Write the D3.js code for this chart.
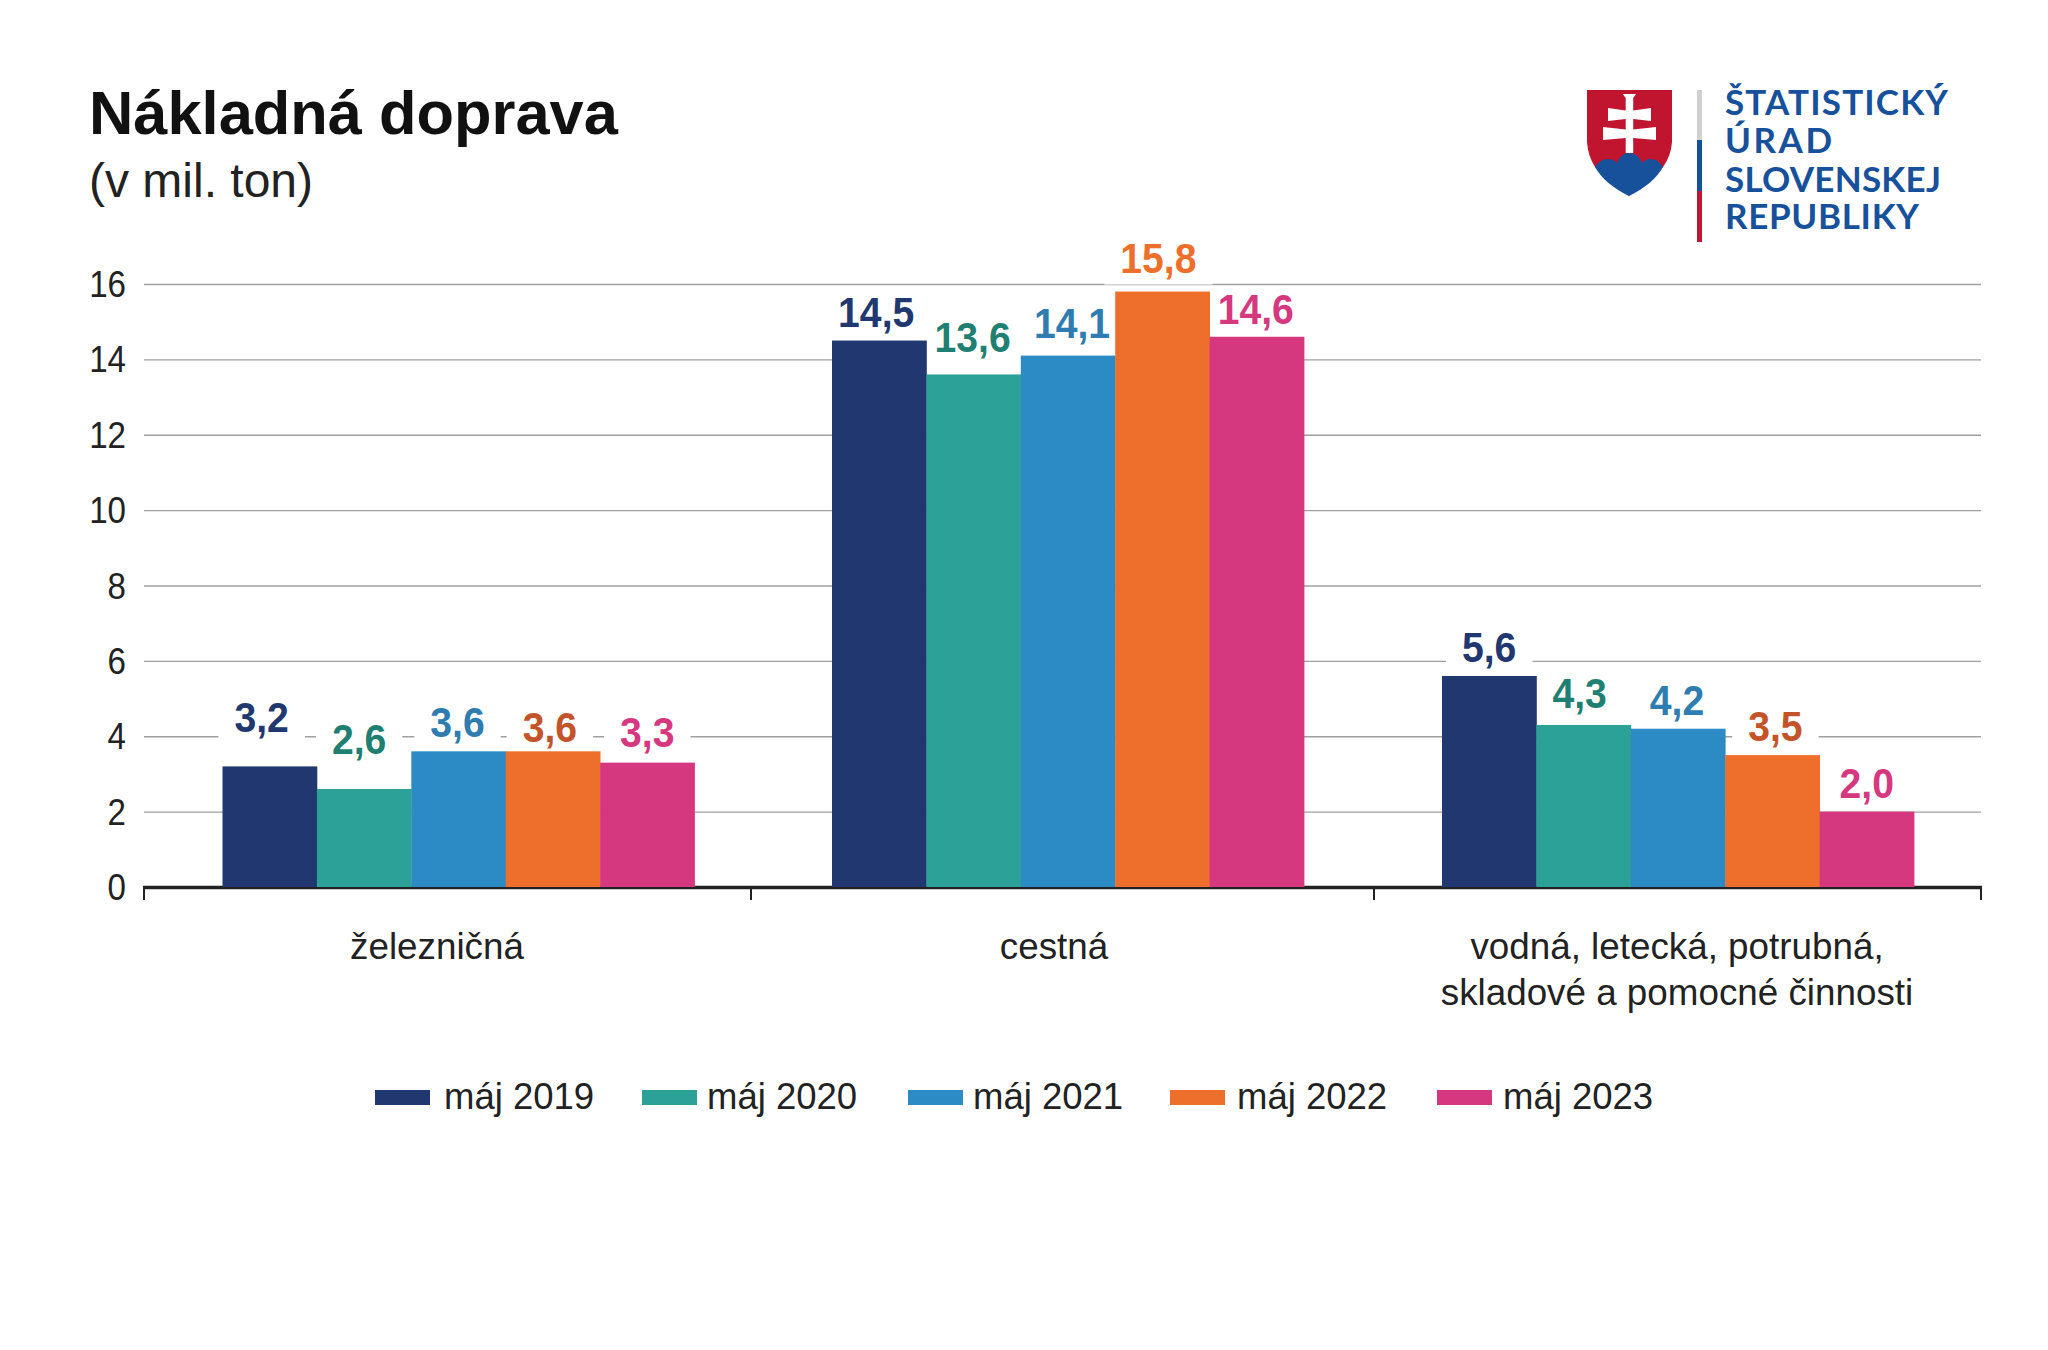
<!DOCTYPE html>
<html><head><meta charset="utf-8">
<script src="https://cdn.jsdelivr.net/npm/d3@7/dist/d3.min.js"></script>
<style>html,body{margin:0;background:#fff}svg{display:block}text{font-family:"Liberation Sans",Arial,sans-serif}</style>
</head><body><svg id="c" width="2048" height="1350"></svg>
<script>
const categories = [["železničná"],["cestná"],["vodná, letecká, potrubná,","skladové a pomocné činnosti"]];
const seriesNames = ["máj 2019","máj 2020","máj 2021","máj 2022","máj 2023"];
const may2019 = [3.2,14.5,5.6];
const may2020 = [2.6,13.6,4.3];
const may2021 = [3.6,14.1,4.2];
const may2022 = [3.6,15.8,3.5];
const may2023 = [3.3,14.6,2.0];
const seriesValues = [may2019,may2020,may2021,may2022,may2023];
const yTicks = [0,2,4,6,8,10,12,14,16];
const barColors = ["#20386F","#2CA197","#2C8AC5","#EE6F2B","#D63880"];
const labelColors = [["#20386F"],["#1F7F72"],["#2E7CB0"],["#C4532A","#EE6F2B","#C4532A"],["#D63880"]];
// layout
const axisL=144, axisR=1981, y0=887, y16=284, barW=94.4, bandStart=[222.5,832,1442];
const catTicks=[144,751,1374,1981], catLabelX=[437,1054,1677];
const labelDx=[[-8,-5,-1,-3,0],[-3,-1,4,-4,-1],[0,-4,-1,3,0]];
const labelLift=[[34,35,14,9,16],[14,22,18,19,13],[14,17,14,14,14]];
const squeeze=(sel,k)=>sel.each(function(){const l=this.getComputedTextLength();d3.select(this).attr("textLength",l*k).attr("lengthAdjust","spacingAndGlyphs");});
const svg=d3.select("#c");
const y=d3.scaleLinear().domain([0,16]).range([y0,y16]);
const xInner=d3.scaleBand().domain(d3.range(5)).range([0,barW*5]);
// titles
svg.append("text").attr("x",89).attr("y",134).attr("font-size",61.4).attr("font-weight",700).attr("fill","#111").text("Nákladná doprava");
svg.append("text").attr("x",89).attr("y",197).attr("font-size",48).attr("fill","#222").text("(v mil. ton)");
// grid
const g=svg.append("g");
g.selectAll("line.grid").data(yTicks.filter(d=>d>0)).join("line").attr("class","grid")
 .attr("x1",axisL).attr("x2",axisR).attr("y1",d=>y(d)+.5).attr("y2",d=>y(d)+.5).attr("stroke","#A0A0A0").attr("stroke-width",1.4);
g.selectAll("text.yt").data(yTicks).join("text").attr("class","yt")
 .attr("x",126).attr("y",d=>y(d)+13).attr("text-anchor","end").attr("font-size",36).attr("fill","#222").text(d=>d).call(squeeze,.92);
// label backgrounds first, then axis, bars, labels
const flat=[];
seriesValues.forEach((vals,s)=>vals.forEach((v,c)=>flat.push({s,c,v})));
const lbl=svg.append("g");
svg.append("path").attr("d",`M${axisL-1},${y0+.5}H${axisR+1}`).attr("stroke","#222").attr("stroke-width",3.4).attr("fill","none");
svg.selectAll("line.tk").data(catTicks).join("line").attr("class","tk").attr("x1",d=>d).attr("x2",d=>d).attr("y1",y0).attr("y2",y0+13).attr("stroke","#222").attr("stroke-width",2);
const bars=svg.append("g");
bars.selectAll("rect").data(flat).join("rect")
 .attr("x",d=>bandStart[d.c]+xInner(d.s)).attr("width",xInner.bandwidth()+.4)
 .attr("y",d=>y(d.v)).attr("height",d=>y0-y(d.v)).attr("fill",d=>barColors[d.s]);
const texts=lbl.selectAll("text").data(flat).join("text")
 .attr("x",d=>bandStart[d.c]+xInner(d.s)+barW/2+labelDx[d.c][d.s])
 .attr("y",d=>y(d.v)-labelLift[d.c][d.s])
 .attr("text-anchor","middle").attr("font-size",43).attr("font-weight",700)
 .attr("fill",d=>{const a=labelColors[d.s];return a[d.c%a.length]})
 .text(d=>d3.format(".1f")(d.v).replace(".",",")).call(squeeze,.91);
texts.each(function(){const b=this.getBBox();
 lbl.insert("rect","text").attr("x",b.x-16).attr("width",b.width+32).attr("y",b.y+3).attr("height",b.height).attr("fill","#fff");});
// categories
categories.forEach((ls,i)=>ls.forEach((t,j)=>svg.append("text").attr("x",catLabelX[i]).attr("y",959+j*46).attr("text-anchor","middle").attr("font-size",36.8).attr("fill","#222").text(t)));
// legend
const legX=[375,642,908,1170,1437], legT=[444,707,973,1237,1503];
seriesNames.forEach((n,i)=>{
 svg.append("rect").attr("x",legX[i]).attr("y",1090).attr("width",55).attr("height",15).attr("fill",barColors[i]);
 svg.append("text").attr("x",legT[i]).attr("y",1109).attr("font-size",36.5).attr("fill","#222").text(n);
});
// logo
const logo=svg.append("g");
logo.append("path").attr("fill","#C1142E").attr("d","M1587,90H1672V142Q1671,156 1663,167L1629,196L1595,167Q1588,156 1587,142Z");
logo.append("path").attr("fill","#17509B").attr("d","M1595,167C1598,162 1603,159 1608,159C1612,159 1615,161 1617,163C1619,157 1624,153 1629,153C1635,153 1640,157 1642,163C1644,161 1647,159 1650,159C1656,159 1660,162 1663,167C1657,178 1645,188 1629,196C1613,188 1601,178 1595,167Z");
logo.append("path").attr("fill","#fff").attr("d","M1622.7,94H1636L1633.2,98V110.5L1651,108V121L1633.2,119V129.5L1656,127V140L1633.2,138V153H1625.7V138L1603,140V127L1625.7,129.5V119L1608,121V108L1625.7,110.5V98Z");
[["#D0D0D0",90,140],["#17509B",140,191],["#C1142E",191,242]].forEach(r=>logo.append("rect").attr("x",1697).attr("y",r[1]).attr("width",5).attr("height",r[2]-r[1]).attr("fill",r[0]));
[["ŠTATISTICKÝ",115,223],["ÚRAD",153,107],["SLOVENSKEJ",192,216],["REPUBLIKY",229,194]].forEach(l=>
 logo.append("text").attr("x",1725).attr("y",l[1]).attr("font-size",35).attr("font-weight",700).style("font-family","Lato").attr("fill","#17509B").attr("textLength",l[2]).attr("lengthAdjust","spacing").text(l[0]));
</script></body></html>
